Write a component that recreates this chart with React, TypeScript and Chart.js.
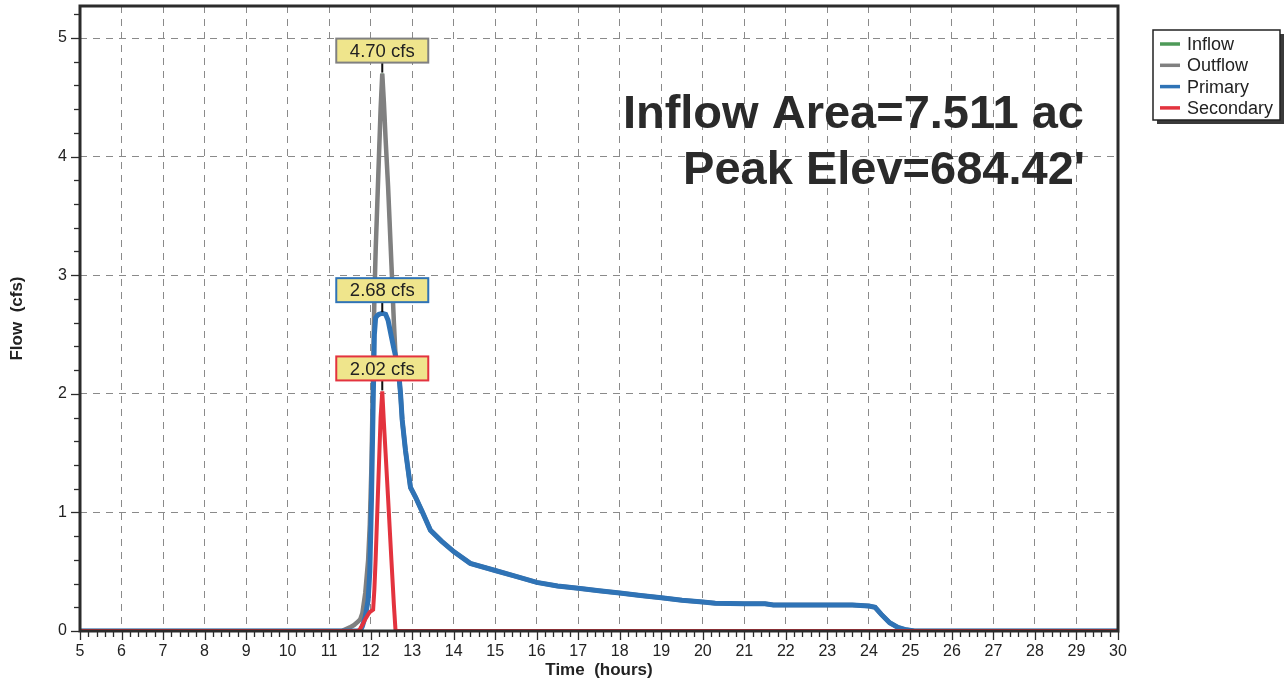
import React, { useEffect, useRef } from 'react';
import { Chart, registerables } from 'chart.js';

Chart.register(...registerables);

// ---- Data (time in hours, flow in cfs) ----
const times = [
  5, 11.3, 11.5, 11.6, 11.7, 11.75, 11.8, 11.87, 11.94, 11.98, 12.02, 12.06, 12.09, 12.12, 12.16,
  12.2, 12.24, 12.28, 12.32, 12.36, 12.42, 12.5, 12.56, 12.6, 12.67, 12.72, 12.76, 12.84, 12.96,
  13.08, 13.25, 13.44, 13.7, 14.0, 14.4, 15.0, 15.5, 16.0, 16.5, 17.0, 17.5, 18.0, 18.5, 19.0, 19.5,
  20.0, 20.3, 21.0, 21.5, 21.7, 22.0, 23.0, 23.6, 24.0, 24.15, 24.3, 24.5, 24.7, 24.9, 25.1, 30,
];

const primaryFlow = [
  0, 0, 0, 0, 0, 0, 0.04, 0.12, 0.26, 0.5, 1.1, 1.9, 2.5, 2.64, 2.66,
  2.67, 2.675, 2.68, 2.675, 2.67, 2.62, 2.48, 2.38, 2.32, 2.2, 2.0, 1.78, 1.52, 1.21,
  1.13, 1.0, 0.85, 0.76, 0.67, 0.57, 0.51, 0.46, 0.41, 0.38, 0.36, 0.34, 0.32, 0.3, 0.28, 0.26,
  0.245, 0.235, 0.23, 0.23, 0.22, 0.22, 0.22, 0.22, 0.21, 0.2, 0.14, 0.07, 0.03, 0.01, 0, 0,
];

const secondaryFlow = [
  0, 0, 0, 0, 0, 0.02, 0.05, 0.1, 0.14, 0.16, 0.17, 0.18, 0.35, 0.6, 1.0,
  1.4, 1.8, 2.02, 1.75, 1.5, 1.12, 0.6, 0.22, 0, 0, 0, 0, 0, 0,
  0, 0, 0, 0, 0, 0, 0, 0, 0, 0, 0, 0, 0, 0, 0, 0,
  0, 0, 0, 0, 0, 0, 0, 0, 0, 0, 0, 0, 0, 0, 0, 0,
];

const outflowFlow = [
  0, 0, 0.03, 0.05, 0.08, 0.1, 0.15, 0.32, 0.6, 0.9, 1.4, 2.2, 2.8, 3.2, 3.6,
  4.0, 4.4, 4.7, 4.45, 4.15, 3.75, 3.1, 2.6, 2.32, 2.2, 2.0, 1.78, 1.52, 1.21,
  1.13, 1.0, 0.85, 0.76, 0.67, 0.57, 0.51, 0.46, 0.41, 0.38, 0.36, 0.34, 0.32, 0.3, 0.28, 0.26,
  0.245, 0.235, 0.23, 0.23, 0.22, 0.22, 0.22, 0.22, 0.21, 0.2, 0.14, 0.07, 0.03, 0.01, 0, 0,
];

const inflowFlow = [
  0, 0, 0.03, 0.05, 0.08, 0.1, 0.15, 0.32, 0.6, 0.9, 1.4, 2.2, 2.8, 3.2, 3.6,
  4.0, 4.4, 4.7, 4.45, 4.15, 3.75, 3.1, 2.6, 2.32, 2.2, 2.0, 1.78, 1.52, 1.21,
  1.13, 1.0, 0.85, 0.76, 0.67, 0.57, 0.51, 0.46, 0.41, 0.38, 0.36, 0.34, 0.32, 0.3, 0.28, 0.26,
  0.245, 0.235, 0.23, 0.23, 0.22, 0.22, 0.22, 0.22, 0.21, 0.2, 0.14, 0.07, 0.03, 0.01, 0, 0,
];

const seriesNames = ['Inflow', 'Outflow', 'Primary', 'Secondary'];
const seriesColors = ['#4e9a58', '#808080', '#2f73b6', '#e3333e'];
const seriesWidths = [3, 4.5, 5, 4];
const peakLabelSeries = [1, 2, 3];
const infoLines = ['Inflow Area=7.511 ac', "Peak Elev=684.42'"];
const xRange = [5, 30];
const yRange = [0, 5.27];
const xTitle = 'Time  (hours)';
const yTitle = 'Flow  (cfs)';

const FONT = "'Liberation Sans', Arial, Helvetica, sans-serif";
const DARK = '#2b2b2b';

const seriesData = [inflowFlow, outflowFlow, primaryFlow, secondaryFlow];

const decorPlugin = {
  id: 'decor',
  beforeDraw(chart: any) {
    const { ctx, width, height } = chart;
    ctx.save();
    ctx.fillStyle = '#ffffff';
    ctx.fillRect(0, 0, width, height);
    ctx.restore();
  },
  afterDatasetsDraw(chart: any) {
    const { ctx, chartArea: a, scales } = chart;
    const xs = scales.x;
    const ys = scales.y;
    ctx.save();

    // info text
    ctx.fillStyle = '#2a2a2a';
    ctx.font = `bold 47px ${FONT}`;
    ctx.textAlign = 'right';
    ctx.textBaseline = 'alphabetic';
    ctx.fillText(infoLines[0], 1084, 128);
    ctx.fillText(infoLines[1], 1085, 184);

    // frame
    ctx.strokeStyle = DARK;
    ctx.lineWidth = 3;
    ctx.strokeRect(a.left, a.top, a.right - a.left, a.bottom - a.top);

    // ticks (major + minor every 0.2)
    ctx.lineWidth = 1.3;
    const nx = Math.round((xRange[1] - xRange[0]) / 0.2);
    for (let i = 0; i <= nx; i++) {
      const v = xRange[0] + i * 0.2;
      const px = Math.round(xs.getPixelForValue(v)) + 0.5;
      const major = i % 5 === 0;
      ctx.beginPath();
      ctx.moveTo(px, a.bottom + 1);
      ctx.lineTo(px, a.bottom + (major ? 9 : 6));
      ctx.stroke();
    }
    const ny = Math.floor((yRange[1] - yRange[0]) / 0.2 + 1e-6);
    for (let i = 0; i <= ny; i++) {
      const v = yRange[0] + i * 0.2;
      const py = Math.round(ys.getPixelForValue(v)) + 0.5;
      const major = i % 5 === 0;
      ctx.beginPath();
      ctx.moveTo(a.left - 1, py);
      ctx.lineTo(a.left - (major ? 9 : 6), py);
      ctx.stroke();
    }

    // peak labels
    ctx.font = `18.5px ${FONT}`;
    ctx.textAlign = 'center';
    ctx.textBaseline = 'middle';
    peakLabelSeries.forEach((si) => {
      const arr = seriesData[si];
      let im = 0;
      arr.forEach((v, i) => {
        if (v > arr[im]) im = i;
      });
      const px = xs.getPixelForValue(times[im]);
      const py = ys.getPixelForValue(arr[im]);
      const w = 92;
      const h = 24;
      const bottom = py - 11;
      const top = bottom - h;
      ctx.strokeStyle = '#111';
      ctx.lineWidth = 2;
      ctx.beginPath();
      ctx.moveTo(px, bottom);
      ctx.lineTo(px, py - 1);
      ctx.stroke();
      ctx.fillStyle = '#efe58c';
      ctx.fillRect(px - w / 2, top, w, h);
      ctx.strokeStyle = seriesColors[si];
      ctx.lineWidth = 2;
      ctx.strokeRect(px - w / 2, top, w, h);
      ctx.fillStyle = '#222';
      ctx.fillText(`${arr[im].toFixed(2)} cfs`, px, top + h / 2 + 1);
    });

    // legend
    const lx = 1153;
    const ly = 30;
    const lw = 127;
    const lh = 90;
    ctx.fillStyle = '#3a3a3a';
    ctx.fillRect(lx + 4, ly + 4, lw, lh);
    ctx.fillStyle = '#ffffff';
    ctx.fillRect(lx, ly, lw, lh);
    ctx.strokeStyle = '#222';
    ctx.lineWidth = 1.5;
    ctx.strokeRect(lx, ly, lw, lh);
    ctx.font = `18px ${FONT}`;
    ctx.textAlign = 'left';
    ctx.textBaseline = 'middle';
    seriesNames.forEach((name, i) => {
      const ry = 44 + i * 21.3;
      ctx.strokeStyle = seriesColors[i];
      ctx.lineWidth = 3.5;
      ctx.beginPath();
      ctx.moveTo(1160, ry);
      ctx.lineTo(1180, ry);
      ctx.stroke();
      ctx.fillStyle = '#222';
      ctx.fillText(name, 1187, ry + 1);
    });

    ctx.restore();
  },
};

export default function App() {
  const ref = useRef<HTMLCanvasElement>(null);

  useEffect(() => {
    document.body.style.margin = '0';
    const canvas = ref.current;
    if (!canvas) return;
    const datasets = seriesNames.map((name, si) => ({
      label: name,
      data: times.map((t, i) => ({ x: t, y: seriesData[si][i] })),
      borderColor: seriesColors[si],
      backgroundColor: seriesColors[si],
      borderWidth: seriesWidths[si],
      pointRadius: 0,
      tension: 0,
      fill: false,
      order: 3 - si,
    }));

    const chart = new Chart(canvas, {
      type: 'line',
      data: { datasets },
      plugins: [decorPlugin],
      options: {
        responsive: false,
        animation: false,
        devicePixelRatio: 1,
        layout: { padding: { top: 6, right: 168, bottom: 0, left: 0 } },
        plugins: {
          legend: { display: false },
          tooltip: { enabled: false },
        },
        scales: {
          x: {
            type: 'linear',
            min: xRange[0],
            max: xRange[1],
            ticks: {
              stepSize: 1,
              autoSkip: false,
              maxRotation: 0,
              padding: 11,
              color: '#222',
              font: { family: FONT, size: 16 },
            },
            grid: { color: '#8a8a8a', lineWidth: 1, drawTicks: false },
            border: { display: false, dash: [7, 6] },
            title: {
              display: true,
              text: xTitle,
              color: '#222',
              font: { family: FONT, size: 17, weight: 'bold' },
              padding: { top: 0, bottom: 0 },
            },
            afterFit: (s: any) => {
              s.height = 50;
              s.paddingLeft = 0;
              s.paddingRight = 0;
              s.paddingTop = 0;
              s.paddingBottom = 0;
            },
          },
          y: {
            type: 'linear',
            min: yRange[0],
            max: yRange[1],
            ticks: {
              stepSize: 1,
              padding: 13,
              color: '#222',
              font: { family: FONT, size: 16 },
            },
            afterBuildTicks: (s: any) => {
              s.ticks = s.ticks.filter((t: any) => Math.abs(t.value - Math.round(t.value)) < 1e-6);
            },
            grid: { color: '#8a8a8a', lineWidth: 1, drawTicks: false },
            border: { display: false, dash: [7, 6] },
            title: {
              display: true,
              text: yTitle,
              color: '#222',
              font: { family: FONT, size: 17, weight: 'bold' },
              padding: { top: 7, bottom: 0 },
            },
            afterFit: (s: any) => {
              s.width = 80;
              s.paddingLeft = 0;
              s.paddingRight = 0;
              s.paddingTop = 0;
              s.paddingBottom = 0;
            },
          },
        },
      } as any,
    });
    return () => chart.destroy();
  }, []);

  return (
    <div style={{ width: 1286, height: 681, background: '#fff' }}>
      <canvas ref={ref} width={1286} height={681} style={{ display: 'block' }} />
    </div>
  );
}
